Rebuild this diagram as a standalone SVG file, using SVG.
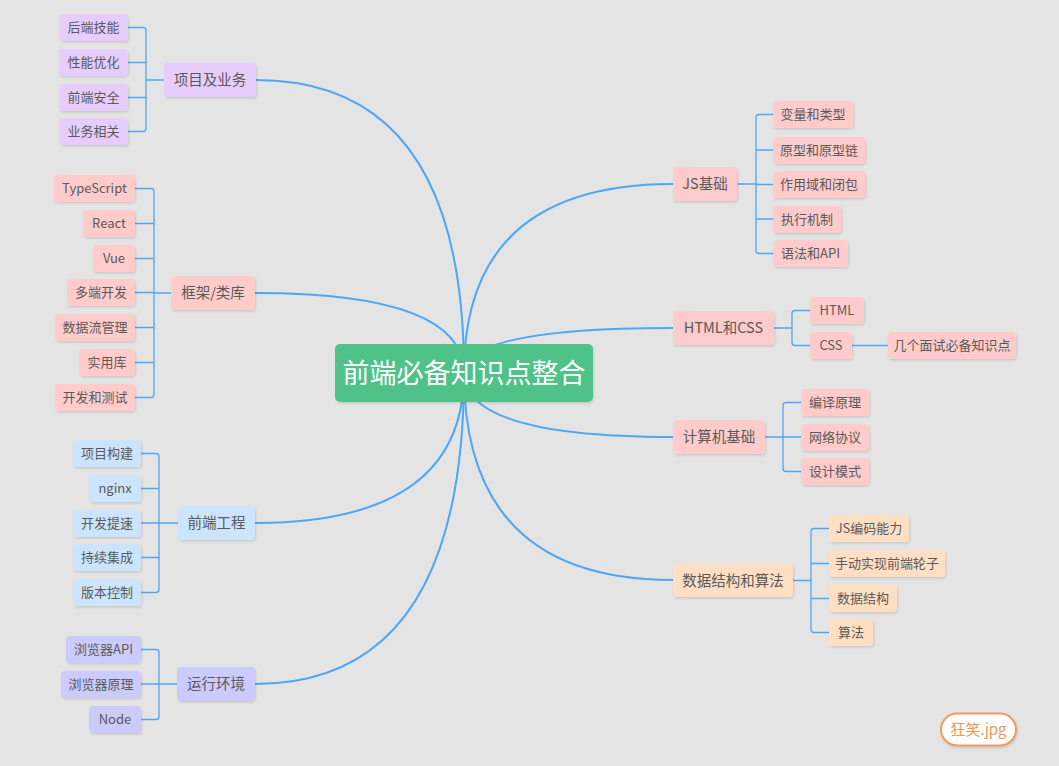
<svg xmlns="http://www.w3.org/2000/svg" width="1059" height="766" viewBox="0 0 1059 766">
<defs>
<filter id="sh" x="-10%" y="-10%" width="130%" height="140%">
<feDropShadow dx="1" dy="1.5" stdDeviation="0.8" flood-color="#000" flood-opacity="0.12"/>
</filter>
<style>
text{font-family:"Noto Sans CJK SC","Noto Sans",sans-serif;fill:#5a5a5a;text-anchor:middle}
.t{font-size:13px}
.b{font-size:14.5px}
.c{font-size:27px;fill:#fff}
rect{filter:url(#sh)}
.lav{fill:#e6cdfd}
.pk{fill:#ffcccb}
.bl{fill:#cce5fd}
.pw{fill:#cccbfd}
.pc{fill:#ffdfc4}
.main{fill:none;stroke:#4ea7f6;stroke-width:2}
.sub{fill:none;stroke:#4ea7f6;stroke-width:1.3}
</style>
</defs>
<rect width="1059" height="766" fill="#e4e4e4" style="filter:none"/>
<g id="connectors">
<path class="main" d="M464,373 Q464,80 256,80"/>
<path class="main" d="M464,373 Q464,293 255,293"/>
<path class="main" d="M464,373 Q464,523 255,523"/>
<path class="main" d="M464,373 Q464,684 255,684"/>
<path class="main" d="M464,373 Q464,184 673,184"/>
<path class="main" d="M464,373 Q464,328 673,328"/>
<path class="main" d="M464,373 Q464,437 673,437"/>
<path class="main" d="M464,373 Q464,580 673,580"/>
<!-- 项目及业务 -->
<path class="sub" d="M128,27.5 H143 Q146,27.5 146,30.5 V128.5 Q146,131.5 143,131.5 H128 M128,62.5 H146 M128,97.5 H146 M146,80 H164"/>
<!-- 框架/类库 -->
<path class="sub" d="M135,188.5 H151 Q154,188.5 154,191.5 V394.5 Q154,397.5 151,397.5 H135 M135,223.5 H154 M135,258.5 H154 M135,292.5 H154 M135,327.5 H154 M135,362.5 H154 M154,293 H171"/>
<!-- 前端工程 -->
<path class="sub" d="M141,453.5 H156 Q159,453.5 159,456.5 V589.5 Q159,592.5 156,592.5 H141 M141,488.5 H159 M141,523 H159 M141,557.5 H159 M159,523 H178"/>
<!-- 运行环境 -->
<path class="sub" d="M141,649.5 H156 Q159,649.5 159,652.5 V716.5 Q159,719.5 156,719.5 H141 M141,684 H159 M159,684 H177"/>
<!-- JS基础 -->
<path class="sub" d="M773,114.5 H759 Q756,114.5 756,117.5 V250.5 Q756,253.5 759,253.5 H773 M773,150 H756 M773,184.5 H756 M773,219 H756 M737,184 H756"/>
<!-- HTML和CSS -->
<path class="sub" d="M810,310.5 H795 Q792,310.5 792,313.5 V342.5 Q792,345.5 795,345.5 H810 M774,328 H792 M852,345.5 H888"/>
<!-- 计算机基础 -->
<path class="sub" d="M801,402.5 H786 Q783,402.5 783,405.5 V468.5 Q783,471.5 786,471.5 H801 M801,437 H783 M765,437 H783"/>
<!-- 数据结构和算法 -->
<path class="sub" d="M829,528.5 H814 Q811,528.5 811,531.5 V629.5 Q811,632.5 814,632.5 H829 M829,563.5 H811 M829,598.5 H811 M793,580.5 H811"/>
</g>
<g id="center"><rect x="335" y="344" width="258" height="58" rx="5" fill="#50c28a"/><text class="c" x="464" y="383">前端必备知识点整合</text></g>

<g id="n-xiangmu"><rect class="lav" x="164" y="63" width="92" height="34" rx="4"/><text class="b" x="210" y="85">项目及业务</text></g>
<g id="n-houduan"><rect class="lav" x="59" y="14" width="69" height="27" rx="4"/><text class="t" x="93.5" y="32">后端技能</text></g>
<g id="n-xingneng"><rect class="lav" x="59" y="49" width="69" height="27" rx="4"/><text class="t" x="93.5" y="67">性能优化</text></g>
<g id="n-anquan"><rect class="lav" x="59" y="84" width="69" height="27" rx="4"/><text class="t" x="93.5" y="102">前端安全</text></g>
<g id="n-yewu"><rect class="lav" x="59" y="118" width="69" height="27" rx="4"/><text class="t" x="93.5" y="136">业务相关</text></g>

<g id="n-kuangjia"><rect class="pk" x="171" y="276" width="84" height="34" rx="4"/><text class="b" x="213" y="298">框架/类库</text></g>
<g id="n-ts"><rect class="pk" x="54" y="175" width="81" height="27" rx="4"/><text class="t" x="94.5" y="193">TypeScript</text></g>
<g id="n-react"><rect class="pk" x="83" y="210" width="52" height="27" rx="4"/><text class="t" x="109" y="228">React</text></g>
<g id="n-vue"><rect class="pk" x="93" y="245" width="42" height="27" rx="4"/><text class="t" x="114" y="263">Vue</text></g>
<g id="n-duoduan"><rect class="pk" x="67" y="279" width="68" height="27" rx="4"/><text class="t" x="101" y="297">多端开发</text></g>
<g id="n-shujuliu"><rect class="pk" x="55" y="314" width="80" height="27" rx="4"/><text class="t" x="95" y="332">数据流管理</text></g>
<g id="n-shiyong"><rect class="pk" x="79" y="349" width="56" height="27" rx="4"/><text class="t" x="107" y="367">实用库</text></g>
<g id="n-kaifaceshi"><rect class="pk" x="55" y="384" width="80" height="27" rx="4"/><text class="t" x="95" y="402">开发和测试</text></g>

<g id="n-gongcheng"><rect class="bl" x="178" y="506" width="77" height="34" rx="4"/><text class="b" x="216.5" y="528">前端工程</text></g>
<g id="n-goujian"><rect class="bl" x="73" y="440" width="68" height="27" rx="4"/><text class="t" x="107" y="458">项目构建</text></g>
<g id="n-nginx"><rect class="bl" x="89" y="475" width="52" height="27" rx="4"/><text class="t" x="115" y="493">nginx</text></g>
<g id="n-tisu"><rect class="bl" x="73" y="510" width="68" height="27" rx="4"/><text class="t" x="107" y="528">开发提速</text></g>
<g id="n-jicheng"><rect class="bl" x="73" y="544" width="68" height="27" rx="4"/><text class="t" x="107" y="562">持续集成</text></g>
<g id="n-banben"><rect class="bl" x="73" y="579" width="68" height="27" rx="4"/><text class="t" x="107" y="597">版本控制</text></g>

<g id="n-yunxing"><rect class="pw" x="177" y="667" width="78" height="34" rx="4"/><text class="b" x="216" y="689">运行环境</text></g>
<g id="n-bapi"><rect class="pw" x="66" y="636" width="75" height="27" rx="4"/><text class="t" x="103.5" y="654">浏览器API</text></g>
<g id="n-byuanli"><rect class="pw" x="61" y="671" width="80" height="27" rx="4"/><text class="t" x="101" y="689">浏览器原理</text></g>
<g id="n-node"><rect class="pw" x="89" y="706" width="52" height="27" rx="4"/><text class="t" x="115" y="724">Node</text></g>

<g id="n-js"><rect class="pk" x="673" y="167" width="64" height="34" rx="4"/><text class="b" x="705" y="189">JS基础</text></g>
<g id="n-bianliang"><rect class="pk" x="773" y="101" width="80" height="27" rx="4"/><text class="t" x="813" y="119">变量和类型</text></g>
<g id="n-yuanxing"><rect class="pk" x="773" y="137" width="92" height="27" rx="4"/><text class="t" x="819" y="155">原型和原型链</text></g>
<g id="n-zuoyongyu"><rect class="pk" x="773" y="171" width="92" height="27" rx="4"/><text class="t" x="819" y="189">作用域和闭包</text></g>
<g id="n-zhixing"><rect class="pk" x="773" y="206" width="68" height="27" rx="4"/><text class="t" x="807" y="224">执行机制</text></g>
<g id="n-yufa"><rect class="pk" x="773" y="240" width="75" height="27" rx="4"/><text class="t" x="810.5" y="258">语法和API</text></g>

<g id="n-htmlcss"><rect class="pk" x="673" y="311" width="101" height="34" rx="4"/><text class="b" x="723.5" y="333">HTML和CSS</text></g>
<g id="n-html"><rect class="pk" x="810" y="297" width="54" height="27" rx="4"/><text class="t" x="837" y="315">HTML</text></g>
<g id="n-css"><rect class="pk" x="810" y="332" width="42" height="27" rx="4"/><text class="t" x="831" y="350">CSS</text></g>
<g id="n-mianshi"><rect class="pk" x="888" y="332" width="128" height="27" rx="4"/><text class="t" x="952" y="350">几个面试必备知识点</text></g>

<g id="n-jisuanji"><rect class="pk" x="673" y="420" width="92" height="34" rx="4"/><text class="b" x="719" y="442">计算机基础</text></g>
<g id="n-bianyi"><rect class="pk" x="801" y="389" width="68" height="27" rx="4"/><text class="t" x="835" y="407">编译原理</text></g>
<g id="n-wangluo"><rect class="pk" x="801" y="424" width="68" height="27" rx="4"/><text class="t" x="835" y="442">网络协议</text></g>
<g id="n-sheji"><rect class="pk" x="801" y="458" width="68" height="27" rx="4"/><text class="t" x="835" y="476">设计模式</text></g>

<g id="n-shujujiegou-suanfa"><rect class="pc" x="673" y="564" width="120" height="33" rx="4"/><text class="b" x="733" y="585.5">数据结构和算法</text></g>
<g id="n-jsbianma"><rect class="pc" x="829" y="515" width="80" height="27" rx="4"/><text class="t" x="869" y="533">JS编码能力</text></g>
<g id="n-lunzi"><rect class="pc" x="829" y="550" width="116" height="27" rx="4"/><text class="t" x="887" y="568">手动实现前端轮子</text></g>
<g id="n-shujujiegou"><rect class="pc" x="829" y="585" width="68" height="27" rx="4"/><text class="t" x="863" y="603">数据结构</text></g>
<g id="n-suanfa"><rect class="pc" x="829" y="619" width="44" height="27" rx="4"/><text class="t" x="851" y="637">算法</text></g>

<g id="watermark"><rect x="941" y="713.5" width="75" height="32" rx="16" fill="#fff" stroke="#f09a62" stroke-width="2"/><text x="978.5" y="735" style="font-size:15px;fill:#f0975c">狂笑.jpg</text></g>
</svg>
